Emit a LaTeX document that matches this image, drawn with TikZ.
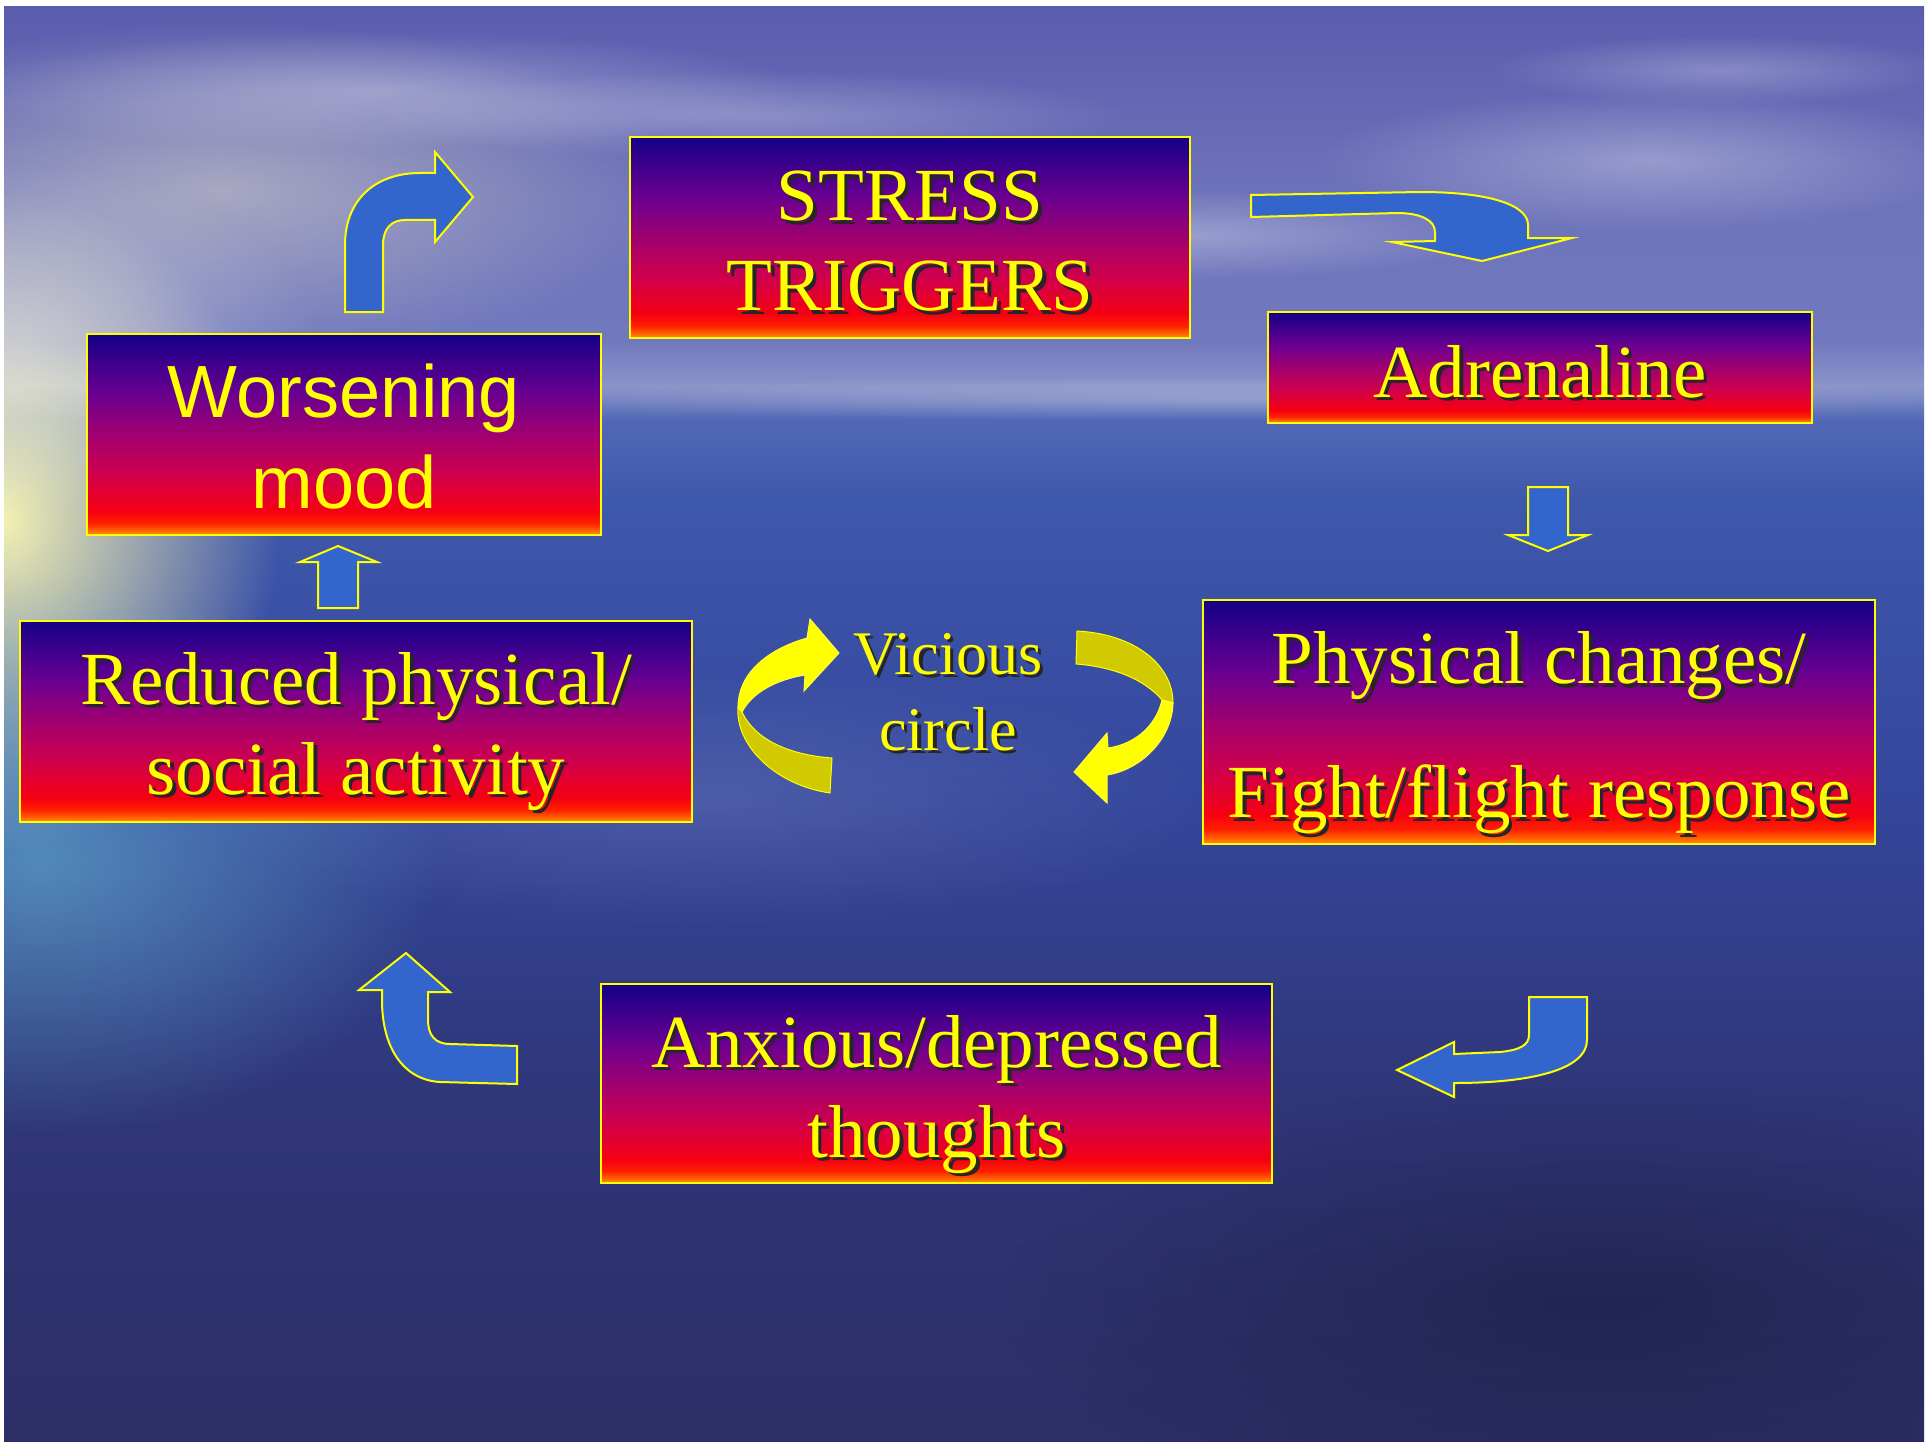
\documentclass[tikz,border=0pt]{standalone}
\usepackage{fontspec}
\setmainfont{Liberation Serif}
\newfontfamily\arialf{Liberation Sans}
\usetikzlibrary{fadings,calc}

\definecolor{bg0}{HTML}{2C2E66}
\definecolor{bg1}{HTML}{2F3678}
\definecolor{bg2}{HTML}{34469C}
\definecolor{bg3}{HTML}{3E58AC}
\definecolor{bg4}{HTML}{5268B6}
\definecolor{bg5}{HTML}{8A94C8}
\definecolor{bg6}{HTML}{7078BE}
\definecolor{bg7}{HTML}{6E74BA}
\definecolor{bg8}{HTML}{5A5CAE}

\definecolor{bxA}{HTML}{FF9000}
\definecolor{bxB}{HTML}{FF2000}
\definecolor{bxC}{HTML}{F50012}
\definecolor{bxD}{HTML}{D0004C}
\definecolor{bxE}{HTML}{A00070}
\definecolor{bxF}{HTML}{6A0090}
\definecolor{bxG}{HTML}{140088}

\definecolor{arrowblue}{HTML}{3366CC}
\definecolor{vdark}{HTML}{D2CA00}
\definecolor{txtyellow}{HTML}{FFFF00}
\definecolor{cloudbeige}{HTML}{D8D4C8}
\definecolor{seateal}{HTML}{6CC4D8}

\pgfdeclareverticalshading{bgshade}{100bp}{color(0bp)=(bg0); color(25bp)=(bg0); color(36.9bp)=(bg1); color(47.4bp)=(bg2); color(57.8bp)=(bg3); color(60.6bp)=(bg4); color(61.8bp)=(bg5); color(63.4bp)=(bg6); color(68.3bp)=(bg7); color(75bp)=(bg8); color(100bp)=(bg8)}
\pgfdeclareverticalshading{boxshade}{100bp}{color(0bp)=(bxA); color(25bp)=(bxA); color(28bp)=(bxB); color(31bp)=(bxC); color(40bp)=(bxD); color(50bp)=(bxE); color(60bp)=(bxF); color(75bp)=(bxG); color(100bp)=(bxG)}

\tikzfading[name=softglow, inner color=transparent!0, outer color=transparent!100]

\tikzset{
  boxst/.style={rectangle, draw=txtyellow, line width=2.5pt, shade, shading=boxshade, inner sep=0pt},
  lbl/.style={text=txtyellow, align=center, inner sep=0pt, font=\fontsize{75}{90}\selectfont},
  shlbl/.style={lbl, text=black!85},
  blockarrow/.style={fill=arrowblue, draw=txtyellow, line width=2pt, line join=miter},
  ribbonlight/.style={fill=txtyellow, draw=txtyellow!80!white, line width=1pt, line join=miter},
  ribbondark/.style={fill=vdark, draw=txtyellow, line width=1pt, line join=miter},
  glow/.style={path fading=softglow},
}

% #1 name, #2 anchor node, #3 vertical shift, #4 text, #5 extra options
\newcommand\shadowlabel[5]{%
  \node[shlbl,#5] (#1-sh) at ($(#2)+(3.5,#3+3.5)$) {#4};
  \node[lbl,#5] (#1) at ($(#2)+(0,#3)$) {#4};}

\begin{document}
\begin{tikzpicture}[x=1pt,y=-1pt]
\useasboundingbox (0,0) rectangle (1927,1442);
\fill[white] (0,0) rectangle (1927,1442);
\shade[shading=bgshade] (4,7) rectangle (1924,1442);

% background light
\begin{scope}
\clip (4,7) rectangle (1924,1442);
\fill[cloudbeige, opacity=0.55, glow] (220,190) ellipse (460 and 170);
\fill[white, opacity=0.30, glow] (380,90) ellipse (420 and 60);
\fill[white, opacity=0.25, glow] (750,115) ellipse (380 and 45);
\fill[white, opacity=0.30, glow] (1180,235) ellipse (320 and 45);
\fill[white, opacity=0.30, glow] (1650,160) ellipse (330 and 70);
\fill[white, opacity=0.25, glow] (1720,70) ellipse (230 and 35);
\fill[white, opacity=0.22, glow] (1250,398) ellipse (780 and 22);
\fill[yellow!30!white, opacity=0.95, glow] (0,520) ellipse (280 and 330);
\fill[white, opacity=0.35, glow] (0,340) ellipse (320 and 180);
\fill[seateal, opacity=0.55, glow] (40,860) ellipse (400 and 280);
\fill[white, opacity=0.12, glow] (700,800) ellipse (520 and 130);
\fill[black, opacity=0.25, glow] (1600,1300) ellipse (600 and 220);
\end{scope}

% boxes
\node[boxst, minimum width=560pt, minimum height=201pt] (stressbox) at (910,237.5) {};
\node[boxst, minimum width=544pt, minimum height=111pt] (adrenbox) at (1540,367.5) {};
\node[boxst, minimum width=514pt, minimum height=201pt] (worsebox) at (344,434.5) {};
\node[boxst, minimum width=672pt, minimum height=201pt] (reducedbox) at (356,721.5) {};
\node[boxst, minimum width=672pt, minimum height=244pt] (physbox) at (1539,722) {};
\node[boxst, minimum width=671pt, minimum height=199pt] (anxbox) at (936.5,1083.5) {};

% labels
\shadowlabel{stress}{stressbox}{4}{STRESS\\TRIGGERS}{}
\shadowlabel{adren}{adrenbox}{4}{Adrenaline}{}
\node[lbl, font=\arialf\fontsize{74}{91}\selectfont] (worse) at ($(worsebox)+(0,2)$) {Worsening\\mood};
\shadowlabel{reduced}{reducedbox}{10}{Reduced physical/\\social activity}{}
\shadowlabel{phys}{physbox}{11}{Physical changes/\\[44pt]Fight/flight response}{}
\shadowlabel{anx}{anxbox}{11}{Anxious/depressed\\thoughts}{}
\coordinate (vc) at (948,692);
\shadowlabel{vicious}{vc}{0}{Vicious\\circle}{font=\fontsize{62}{76}\selectfont}

% block arrows
\draw[blockarrow] (345,312) -- (345,245) .. controls (345,200) and (375,173) .. (420,173)
  -- (435,173) -- (435,152) -- (473,197) -- (435,242) -- (435,220) -- (405,220)
  .. controls (392,220) and (383,228) .. (383,245) -- (383,312) -- cycle;

\draw[blockarrow] (1251,195) -- (1420,192) .. controls (1490,192) and (1528,205) .. (1528,225)
  -- (1528,238) -- (1572,238) -- (1482,261) -- (1392,242) -- (1435,241) -- (1435,232)
  .. controls (1435,220) and (1420,213) .. (1397,213) -- (1251,217) -- cycle;

\draw[blockarrow] (1528,487) -- (1568,487) -- (1568,535) -- (1588,535) -- (1548,551)
  -- (1508,535) -- (1528,535) -- cycle;

\draw[blockarrow] (318,608) -- (318,562) -- (300,562) -- (338,546) -- (377,562)
  -- (358,562) -- (358,608) -- cycle;

\draw[blockarrow] (1529,997) -- (1587,997) -- (1587,1040) .. controls (1587,1070) and (1530,1083) .. (1454,1083)
  -- (1454,1097) -- (1397,1070) -- (1454,1042) -- (1454,1054) -- (1500,1052)
  .. controls (1520,1050) and (1529,1045) .. (1529,1035) -- cycle;

\draw[blockarrow] (359,990) -- (406,953) -- (450,992) -- (428,992) -- (428,1020)
  .. controls (428,1035) and (435,1044) .. (450,1044) -- (517,1046) -- (517,1084)
  -- (440,1082) .. controls (405,1080) and (382,1050) .. (382,1000) -- (382,990) -- cycle;

% vicious circle ribbons
\filldraw[ribbondark] (738,707) .. controls (735,745) and (775,785) .. (830,793) -- (832,758)
  .. controls (790,755) and (755,740) .. (742,712) -- cycle;
\filldraw[ribbonlight] (738,707) .. controls (738,675) and (765,650) .. (807,638) -- (810,619)
  -- (839,653) -- (804,691) -- (805,675) .. controls (775,680) and (752,693) .. (742,712) -- cycle;

\filldraw[ribbondark] (1077,631) .. controls (1135,634) and (1173,665) .. (1173,703) -- (1162,700)
  .. controls (1145,680) and (1115,667) .. (1076,664) -- cycle;
\filldraw[ribbonlight] (1173,703) .. controls (1172,740) and (1140,770) .. (1107,775) -- (1107,803)
  -- (1074,772) -- (1107,733) -- (1108,748) .. controls (1130,745) and (1155,730) .. (1162,700) -- cycle;
\end{tikzpicture}
\end{document}
